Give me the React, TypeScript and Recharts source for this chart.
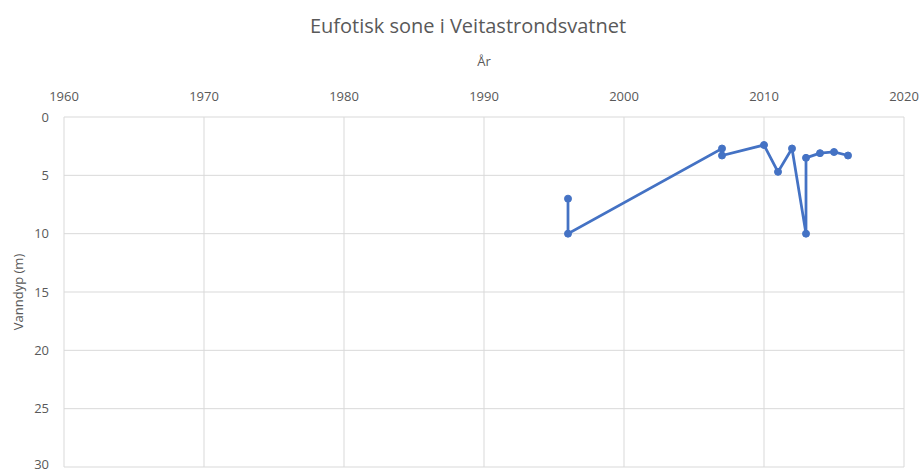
import React from 'react';
import { LineChart, Line, XAxis, YAxis, CartesianGrid } from 'recharts';

// Målingar av eufotisk sone (år, djup i meter), i rekkjefølgja linja går
const years = [1996, 1996, 2007, 2007, 2010, 2011, 2012, 2013, 2013, 2014, 2015, 2016];
const depths = [7, 10, 2.7, 3.3, 2.4, 4.7, 2.7, 10, 3.5, 3.1, 3.0, 3.3];

const yearTicks = [1960, 1970, 1980, 1990, 2000, 2010, 2020];
const depthTicks = [0, 5, 10, 15, 20, 25, 30];

const data = years.map((year, i) => ({ year, depth: depths[i] }));

const FONT = '"Open Sans", "Segoe UI", sans-serif';
const TEXT = '#595959';
const BLUE = '#4472c4';

const App: React.FC = () => {
  return (
    <div style={{ position: 'relative', width: 920, height: 472, fontFamily: FONT }}>
      <style>{'body{margin:0}'}</style>
      <div
        style={{
          position: 'absolute',
          top: 12,
          left: 8,
          width: 920,
          textAlign: 'center',
          fontSize: 20,
          color: TEXT,
        }}
      >
        Eufotisk sone i Veitastrondsvatnet
      </div>
      <LineChart
        width={920}
        height={472}
        data={data}
        margin={{ top: 71, right: 16, bottom: 5, left: 13 }}
      >
        <CartesianGrid stroke="#d9d9d9" strokeWidth={1} />
        <XAxis
          dataKey="year"
          type="number"
          orientation="top"
          domain={[1960, 2020]}
          ticks={yearTicks}
          height={46}
          axisLine={false}
          tickLine={false}
          tickSize={0}
          tickMargin={16}
          tick={{ fill: TEXT, fontSize: 13, fontFamily: FONT }}
          label={{ value: 'År', position: 'top', offset: 5, fill: TEXT, fontSize: 13, fontFamily: FONT }}
        />
        <YAxis
          type="number"
          reversed
          domain={[0, 30]}
          ticks={depthTicks}
          width={51}
          axisLine={false}
          tickLine={false}
          tickSize={0}
          tickMargin={15}
          tick={{ fill: TEXT, fontSize: 13, fontFamily: FONT }}
          label={{
            value: 'Vanndyp (m)',
            angle: -90,
            position: 'insideLeft',
            offset: 5,
            fill: TEXT,
            fontSize: 13,
            fontFamily: FONT,
            style: { textAnchor: 'middle' },
          }}
        />
        <Line
          type="linear"
          dataKey="depth"
          stroke={BLUE}
          strokeWidth={2.75}
          dot={{ r: 3.5, fill: BLUE, stroke: BLUE, strokeWidth: 1 }}
          isAnimationActive={false}
        />
      </LineChart>
    </div>
  );
};

export default App;
